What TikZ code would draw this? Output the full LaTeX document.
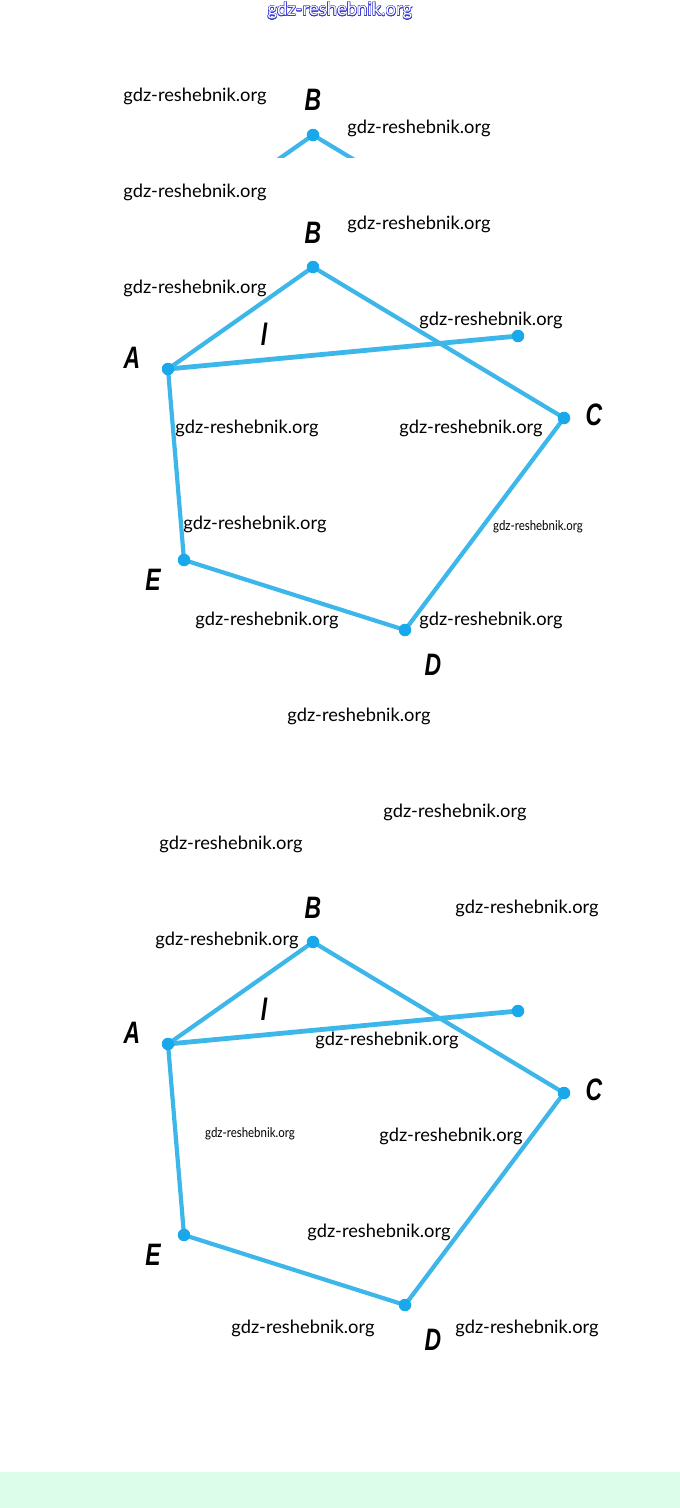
\documentclass[tikz,border=0pt]{standalone}
\usepackage{fontspec}
\setmainfont{Lato}
\newfontfamily\labfont[FakeStretch=0.74]{Liberation Sans}
\newfontfamily\smallwm[FakeStretch=0.85]{Lato}
\usepackage{contour}
\contourlength{0.45pt}
\definecolor{seg}{HTML}{3DB7EA}
\definecolor{dotc}{HTML}{19A8EC}
\definecolor{band}{HTML}{DCFDEA}
\definecolor{wmblue}{HTML}{3A3AD0}
\tikzset{
  seg/.style={draw=seg, line width=4.2pt, line cap=round},
  segl/.style={draw=seg, line width=4.8pt, line cap=round},
  vdot/.style={circle, fill=dotc, inner sep=0pt, minimum size=12.5pt},
  vlab/.style={font=\labfont\bfseries\itshape\fontsize{31}{31}\selectfont, inner sep=0pt, text=black},
  wm/.style={font=\fontsize{18.3}{18.3}\selectfont, inner sep=0pt, text=black},
  wms/.style={font=\smallwm\fontsize{13.5}{13.5}\selectfont, inner sep=0pt, text=black},
}
\newcommand{\drawpenta}[2]{%
  \begin{scope}[yshift=-#2pt]
    \coordinate (A#1) at (168,369);
    \coordinate (B#1) at (313,267);
    \coordinate (C#1) at (564,418);
    \coordinate (D#1) at (405,630);
    \coordinate (E#1) at (184,560);
    \coordinate (L#1) at (518,336);
    \draw[seg] (A#1) -- (B#1) -- (C#1) -- (D#1) -- (E#1) -- cycle;
    \draw[segl] (A#1) -- (L#1);
    \foreach \p in {A,B,C,D,E,L} {\node[vdot] (d\p#1) at (\p#1) {};}
    \node[vlab] (lA#1) at (132,358) {A};
    \node[vlab] (lB#1) at (313,233) {B};
    \node[vlab] (lC#1) at (594,415) {C};
    \node[vlab] (lD#1) at (433,665) {D};
    \node[vlab] (lE#1) at (153,580) {E};
    \node[vlab] (ll#1) at (264,334) {l};
  \end{scope}}
\begin{document}
\begin{tikzpicture}[x=1pt,y=-1pt]
  \path[use as bounding box, fill=white] (0,0) rectangle (680,1508);
  \fill[band] (0,1472) rectangle (680,1508);
  % top partial copy
  \begin{scope}
    \clip (0,0) rectangle (680,157);
    \begin{scope}[yshift=132pt]
      \coordinate (At) at (168,369);
      \coordinate (Bt) at (313,267);
      \coordinate (Ct) at (564,418);
      \draw[seg] (At) -- (Bt) -- (Ct);
      \node[vdot] (dBt) at (Bt) {};
    \end{scope}
  \end{scope}
  \node[vlab] (lBt) at (313,100) {B};
  \drawpenta{1}{0}
  \drawpenta{2}{675}
  % watermarks
  \node[font=\fontsize{18.5}{18.5}\selectfont, inner sep=0pt] (w0) at (340,11) {\contour{wmblue}{\textcolor{white}{gdz-reshebnik.org}}};
  \node[wm] (w1) at (195,96) {gdz-reshebnik.org};
  \node[wm] (w2) at (419,128) {gdz-reshebnik.org};
  \node[wm] (w3) at (195,192) {gdz-reshebnik.org};
  \node[wm] (w4) at (419,224) {gdz-reshebnik.org};
  \node[wm] (w5) at (195,288) {gdz-reshebnik.org};
  \node[wm] (w6) at (491,320) {gdz-reshebnik.org};
  \node[wm] (w7) at (247,428) {gdz-reshebnik.org};
  \node[wm] (w8) at (471,428) {gdz-reshebnik.org};
  \node[wm] (w9) at (255,524) {gdz-reshebnik.org};
  \node[wms] (w10) at (538,527) {gdz-reshebnik.org};
  \node[wm] (w11) at (267,620) {gdz-reshebnik.org};
  \node[wm] (w12) at (491,620) {gdz-reshebnik.org};
  \node[wm] (w13) at (359,716) {gdz-reshebnik.org};
  \node[wm] (w14) at (455,812) {gdz-reshebnik.org};
  \node[wm] (w15) at (231,844) {gdz-reshebnik.org};
  \node[wm] (w16) at (527,908) {gdz-reshebnik.org};
  \node[wm] (w17) at (227,940) {gdz-reshebnik.org};
  \node[wm] (w18) at (387,1040) {gdz-reshebnik.org};
  \node[wms] (w19) at (250,1134) {gdz-reshebnik.org};
  \node[wm] (w20) at (451,1136) {gdz-reshebnik.org};
  \node[wm] (w21) at (379,1232) {gdz-reshebnik.org};
  \node[wm] (w22) at (303,1328) {gdz-reshebnik.org};
  \node[wm] (w23) at (527,1328) {gdz-reshebnik.org};
\end{tikzpicture}
\end{document}
